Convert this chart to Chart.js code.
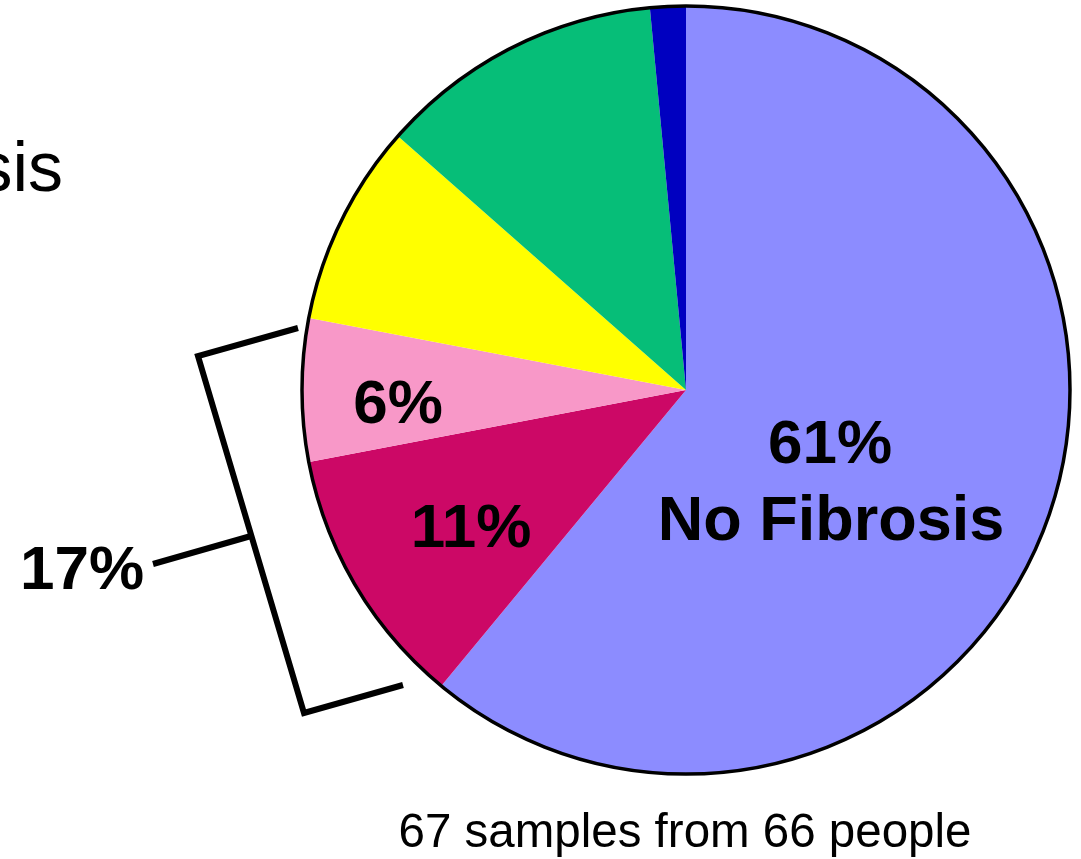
<!DOCTYPE html>
<html>
<head>
<meta charset="utf-8">
<style>
  html, body { margin: 0; padding: 0; background: #ffffff; }
  #wrap { width: 1081px; height: 859px; position: relative; overflow: hidden; }
  canvas { display: block; }
</style>
<script src="https://cdn.jsdelivr.net/npm/chart.js@4.4.1/dist/chart.umd.min.js"></script>
</head>
<body>
<div id="wrap"><canvas id="pie" width="1081" height="859"></canvas></div>
<script>
// Share of samples per fibrosis category (percent), clockwise from 12 o'clock
const categories = ["No Fibrosis", "Group 2", "Group 3", "Group 4", "Group 5", "Group 6"];
const shares = [61, 11, 6, 8.5, 12, 1.5];
const sliceColors = ["#8c8cff", "#cc0866", "#f898c8", "#ffff00", "#06be78", "#0000c0"];

// Slices that carry a printed percentage, and the bracketed pair
const labelledSlices = [0, 1, 2];
const bracketSlices = [1, 2];

const caption = "67 samples from 66 people";
const sideLabel = "Fibrosis";

const FONT = '"Liberation Sans", Arial, Helvetica, sans-serif';

const pct = v => `${v}%`;

const annotations = {
  id: 'annotations',
  afterDatasetsDraw(chart) {
    const ctx = chart.ctx;
    const arc = chart.getDatasetMeta(0).data[0];
    const cx = arc.x, cy = arc.y, r = arc.outerRadius;

    ctx.save();
    // outer rim of the pie
    ctx.beginPath();
    ctx.arc(cx, cy, r - 1, 0, Math.PI * 2);
    ctx.lineWidth = 3.5;
    ctx.strokeStyle = '#000';
    ctx.stroke();

    // percentage labels inside slices
    ctx.fillStyle = '#000';
    ctx.textAlign = 'center';
    ctx.textBaseline = 'alphabetic';
    ctx.font = `bold 62px ${FONT}`;
    ctx.fillText(pct(shares[labelledSlices[0]]), 830, 463);
    ctx.font = `bold 63px ${FONT}`;
    ctx.fillText(categories[0], 831, 540);
    ctx.font = `bold 62px ${FONT}`;
    ctx.fillText(pct(shares[labelledSlices[1]]), 471, 547);
    ctx.fillText(pct(shares[labelledSlices[2]]), 398, 423);

    // bracket grouping two slices
    ctx.lineWidth = 6;
    ctx.lineJoin = 'miter';
    ctx.lineCap = 'butt';
    ctx.beginPath();
    ctx.moveTo(298, 328);
    ctx.lineTo(198, 356);
    ctx.lineTo(304, 713);
    ctx.lineTo(403, 685);
    ctx.stroke();
    ctx.beginPath();
    ctx.moveTo(153, 564);
    ctx.lineTo(251, 536);
    ctx.stroke();

    const groupTotal = bracketSlices.reduce((s, i) => s + shares[i], 0);
    ctx.fillText(pct(groupTotal), 82, 589);

    // side label running off the left edge
    ctx.font = `70px ${FONT}`;
    ctx.textAlign = 'right';
    ctx.fillText(sideLabel, 63, 191);

    // caption under the pie
    ctx.font = `47.5px ${FONT}`;
    ctx.textAlign = 'center';
    ctx.fillText(caption, 685, 847);
    ctx.restore();
  }
};

new Chart(document.getElementById('pie'), {
  type: 'pie',
  data: {
    labels: categories,
    datasets: [{
      data: shares,
      backgroundColor: sliceColors,
      borderWidth: 0,
      hoverOffset: 0,
      offset: 0
    }]
  },
  options: {
    responsive: false,
    animation: false,
    events: [],
    rotation: 0,
    layout: { padding: { left: 301, right: 10, top: 5, bottom: 84 } },
    plugins: {
      legend: { display: false },
      tooltip: { enabled: false },
      title: { display: false }
    }
  },
  plugins: [annotations]
});
</script>
</body>
</html>
